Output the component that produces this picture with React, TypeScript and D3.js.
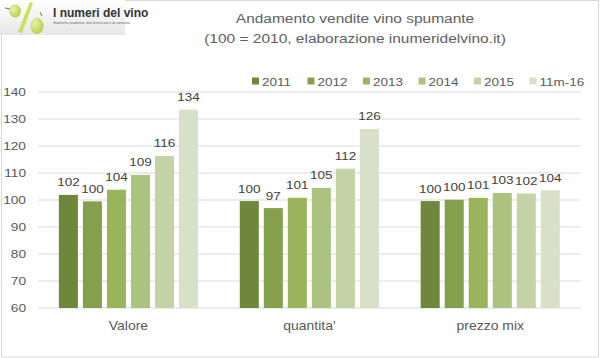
import React from "react";
import * as d3 from "d3";

const categories = ["Valore", "quantita'", "prezzo mix"];
const seriesNames = ["2011", "2012", "2013", "2014", "2015", "11m-16"];
const values2011 = [101.9, 99.6, 99.6];
const values2012 = [99.5, 97.0, 100.1];
const values2013 = [103.8, 100.8, 100.8];
const values2014 = [109.3, 104.5, 102.6];
const values2015 = [116.3, 111.6, 102.4];
const values11m16 = [133.5, 126.3, 103.6];
const seriesValues = [values2011, values2012, values2013, values2014, values2015, values11m16];
const colors = ["#6f873d", "#85a04c", "#99b45b", "#abc37f", "#c3d3a6", "#d8e1c7"];
const yTicks = [60, 70, 80, 90, 100, 110, 120, 130, 140];

const W = 601, H = 358;
const FONT = "'Liberation Sans', Arial, sans-serif";
const SY = 0.86;

function T(props: { x: number; y: number; size: number; anchor?: string; fill?: string; weight?: string; children: React.ReactNode }) {
  const { x, y, size, anchor = "start", fill = "#595959", weight = "normal", children } = props;
  return (
    <text
      transform={`translate(${x},${y}) scale(1,${SY})`}
      fontSize={size}
      fontFamily={FONT}
      textAnchor={anchor}
      fill={fill}
      fontWeight={weight}
    >
      {children}
    </text>
  );
}

export default function App() {
  const y = d3.scaleLinear().domain([60, 140]).range([308, 92]);
  const x0 = d3.scaleBand<string>().domain(categories).range([38, 580.7]).padding(0);
  const x1 = d3
    .scaleBand<string>()
    .domain(seriesNames)
    .range([0, x0.bandwidth()])
    .paddingInner(0.208)
    .paddingOuter(0.869);

  const legendX = d3.scaleLinear().domain([0, 5]).range([252, 529.5]);

  return (
    <svg width={W} height={H} style={{ position: "absolute", left: 0, top: 0, background: "#fff" }}>
      <rect x={0} y={0} width={W} height={H} fill="#fff" />
      <rect x={1.5} y={0.5} width={597} height={356.5} fill="none" stroke="#d9d9d9" />

      {/* title */}
      <T x={355} y={23} size={15.5} anchor="middle" fill="#606060">Andamento vendite vino spumante</T>
      <T x={355} y={43} size={15.5} anchor="middle" fill="#606060">(100 = 2010, elaborazione inumeridelvino.it)</T>

      {/* gridlines */}
      {yTicks.map((t) => (
        <line key={t} x1={38} x2={580.7} y1={y(t)} y2={y(t)} stroke="#d9d9d9" strokeWidth={1} />
      ))}
      {yTicks.map((t) => (
        <T key={"l" + t} x={26} y={y(t) + 4.3} size={13.7} anchor="end">{t}</T>
      ))}

      {/* bars */}
      {categories.map((c, ci) => (
        <g key={c} transform={`translate(${x0(c)},0)`}>
          {seriesNames.map((s, si) => {
            const v = seriesValues[si][ci];
            return (
              <rect
                key={s}
                x={x1(s)}
                y={y(v)}
                width={x1.bandwidth()}
                height={y(60) - y(v)}
                fill={colors[si]}
              />
            );
          })}
          {seriesNames.map((s, si) => {
            const v = seriesValues[si][ci];
            return (
              <T key={"t" + s} x={(x1(s) as number) + x1.bandwidth() / 2} y={y(v) - 8.5} size={13.5} anchor="middle" fill="#404040">
                {Math.round(v)}
              </T>
            );
          })}
          <T x={x0.bandwidth() / 2} y={329.5} size={14} anchor="middle">{c}</T>
        </g>
      ))}

      {/* legend */}
      {seriesNames.map((s, i) => (
        <g key={s}>
          <rect x={legendX(i)} y={77.5} width={7} height={7} fill={colors[i]} />
          <T x={legendX(i) + 10} y={85.5} size={13.5}>{s}</T>
        </g>
      ))}

      {/* logo */}
      <defs>
        <linearGradient id="logoBg" x1="0" y1="0" x2="0" y2="1">
          <stop offset="0" stopColor="#ffffff" />
          <stop offset="1" stopColor="#e6e6e6" />
        </linearGradient>
        <radialGradient id="grape" cx="0.35" cy="0.35" r="0.7">
          <stop offset="0" stopColor="#e6f2a8" />
          <stop offset="1" stopColor="#b5cf4a" />
        </radialGradient>
      </defs>
      <rect x={0} y={0} width={125} height={35} fill="url(#logoBg)" />
      <path d="M5,8 L11,9" stroke="#8a6d3b" strokeWidth={1} />
      <ellipse cx={15} cy={11} rx={6} ry={6.5} fill="url(#grape)" />
      <path d="M30,2 L33,3 L22,33 L18,32 Z" fill="#c9e05a" />
      <path d="M40,12 L42,16" stroke="#8a6d3b" strokeWidth={1} />
      <ellipse cx={37} cy={26} rx={6.5} ry={8} fill="url(#grape)" />
      <text x={53} y={17} fontSize={12} fontFamily="'Liberation Sans Narrow', 'Liberation Sans', Arial, sans-serif" fill="#333" fontWeight="bold">I numeri del vino</text>
      <text x={53} y={24} fontSize={3.4} fontFamily={FONT} fill="#666">Statistiche produttive, dati di mercato e di consumo.</text>
    </svg>
  );
}
